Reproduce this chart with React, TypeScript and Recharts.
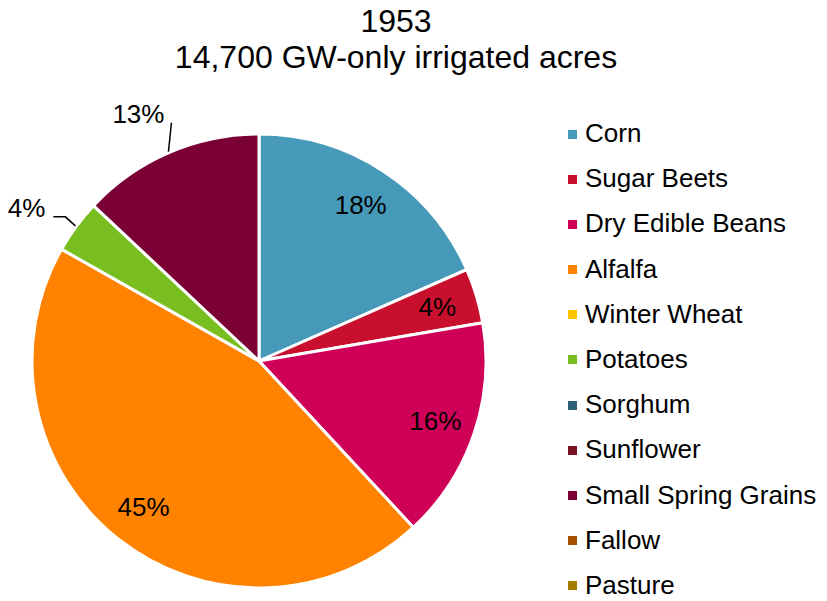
import React from "react";
import { PieChart, Pie, Cell, Legend } from "recharts";

const titleLines = ["1953", "14,700 GW-only irrigated acres"];

const crops = [
    "Corn",
    "Sugar Beets",
    "Dry Edible Beans",
    "Alfalfa",
    "Winter Wheat",
    "Potatoes",
    "Sorghum",
    "Sunflower",
    "Small Spring Grains",
    "Fallow",
    "Pasture",
];

// share of irrigated acres, percent
const shares = [18.4, 3.9, 15.8, 45.1, 0, 3.8, 0, 0, 13.0, 0, 0];

const colors = [
    "#4699b8",
    "#c8102e",
    "#cf0058",
    "#ff8200",
    "#ffc600",
    "#78be20",
    "#2e6177",
    "#7a1020",
    "#7a0036",
    "#a65000",
    "#a37c00",
];

const data = crops.map((name, i) => ({ name, value: shares[i] }));

const FONT = '"Liberation Sans", Arial, Helvetica, sans-serif';
const RAD = Math.PI / 180;

const renderLabel = (props: any) => {
    const { cx, cy, midAngle, outerRadius, percent, index, value } = props;
    if (!value) return null;
    const text = `${Math.round(percent * 100)}%`;
    const cos = Math.cos(-midAngle * RAD);
    const sin = Math.sin(-midAngle * RAD);
    const name = crops[index];

    if (name === "Small Spring Grains") {
        const x0 = cx + (outerRadius + 1) * cos;
        const y0 = cy + (outerRadius + 1) * sin;
        const x1 = x0 + 3;
        const y1 = y0 - 29;
        return (
            <g>
                <path d={`M${x0},${y0}L${x1},${y1}`} stroke="#000" strokeWidth={1.5} fill="none" />
                <text x={x1 - 7} y={y1} textAnchor="end" fontSize={26} fontFamily={FONT} fill="#000">
                    {text}
                </text>
            </g>
        );
    }
    if (name === "Potatoes") {
        const x0 = cx + (outerRadius + 1) * cos;
        const y0 = cy + (outerRadius + 1) * sin;
        const x1 = x0 - 10;
        const y1 = y0 - 9;
        const x2 = x1 - 12;
        return (
            <g>
                <path d={`M${x0},${y0}L${x1},${y1}L${x2},${y1}`} stroke="#000" strokeWidth={1.5} fill="none" />
                <text x={x2 - 8} y={y1} textAnchor="end" fontSize={26} fontFamily={FONT} fill="#000">
                    {text}
                </text>
            </g>
        );
    }
    const r = outerRadius * 0.82;
    return (
        <text
            x={cx + r * cos}
            y={cy + r * sin}
            textAnchor="middle"
            dominantBaseline="central"
            fontSize={26}
            fontFamily={FONT}
            fill="#000"
        >
            {text}
        </text>
    );
};

const renderLegend = () => (
    <div style={{ fontFamily: FONT, fontSize: 26, color: "#000" }}>
        {crops.map((name, i) => (
            <div
                key={name}
                style={{
                    height: 24,
                    lineHeight: "24px",
                    marginBottom: i === crops.length - 1 ? 0 : 21.2,
                    display: "flex",
                    alignItems: "center",
                }}
            >
                <span
                    style={{
                        display: "inline-block",
                        width: 9,
                        height: 9,
                        marginTop: 2,
                        background: colors[i],
                        marginRight: 8,
                    }}
                />
                <span style={{ whiteSpace: "nowrap" }}>{name}</span>
            </div>
        ))}
    </div>
);

const App = () => {
    return (
        <div style={{ position: "absolute", left: 0, top: 0, width: 827, height: 601, background: "#fff" }}>
            <div
                style={{
                    position: "absolute",
                    left: 0,
                    top: 3,
                    width: 792,
                    textAlign: "center",
                    fontFamily: FONT,
                    fontSize: 32,
                    lineHeight: "36px",
                    color: "#000",
                }}
            >
                {titleLines.map((t) => (
                    <div key={t}>{t}</div>
                ))}
            </div>
            <PieChart
                width={827}
                height={601}
                margin={{ top: 0, right: 0, bottom: 0, left: 0 }}
                style={{ position: "absolute", left: 0, top: 0 }}
            >
                <Pie
                    data={data}
                    dataKey="value"
                    nameKey="name"
                    cx={259}
                    cy={361}
                    outerRadius={227}
                    startAngle={90}
                    endAngle={-270}
                    stroke="#fff"
                    strokeWidth={3}
                    label={renderLabel}
                    labelLine={false}
                    isAnimationActive={false}
                >
                    {data.map((d, i) => (
                        <Cell key={d.name} fill={colors[i]} />
                    ))}
                </Pie>
                <Legend
                    layout="vertical"
                    align="right"
                    verticalAlign="top"
                    content={renderLegend}
                    wrapperStyle={{ position: "absolute", left: 568, top: 121, width: 259 }}
                />
            </PieChart>
        </div>
    );
};

export default App;
